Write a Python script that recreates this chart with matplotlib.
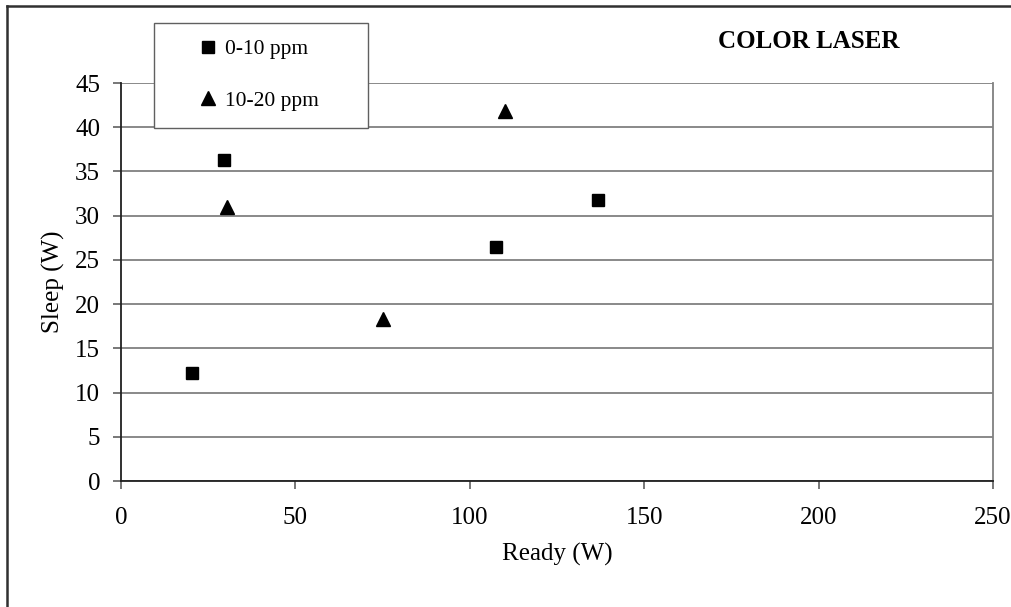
import matplotlib.pyplot as plt
from matplotlib.patches import Rectangle
from matplotlib.lines import Line2D

# data
ready_0_10 = [20.3, 29.5, 107.4, 136.8]
sleep_0_10 = [12.2, 36.3, 26.5, 31.8]
ready_10_20 = [30.4, 75.0, 110.1]
sleep_10_20 = [31.0, 18.3, 41.8]
labels = ["0-10 ppm", "10-20 ppm"]
x_ticks = [0, 50, 100, 150, 200, 250]
y_ticks = list(range(0, 50, 5))

W, H = 1011, 607
plt.rcParams['font.family'] = ['Liberation Serif', 'DejaVu Serif']

fig = plt.figure(figsize=[W / 100, H / 100], dpi=100)
ax = fig.add_axes([121 / W, 1 - 481 / H, (993 - 121) / W, (481 - 83) / H])

ax.plot(ready_0_10, sleep_0_10, 's', color='black', markersize=8.6, label=labels[0], zorder=3)
ax.plot(ready_10_20, sleep_10_20, '^', color='black', markersize=9.6, label=labels[1], zorder=3)

ax.set_xlim(0, 250)
ax.set_ylim(0, 45)
ax.set_xticks(x_ticks)
ax.set_yticks(y_ticks)
ax.yaxis.grid(True, color='#808080', linewidth=1.3)
ax.set_axisbelow(True)

ax.spines['top'].set_visible(False)
ax.spines['right'].set_color('#808080')
ax.spines['left'].set_color('#202020')
ax.spines['bottom'].set_color('#202020')
for s in ax.spines.values():
    s.set_linewidth(1.3)

ax.tick_params(axis='both', direction='out', length=6, width=1.2, color='#606060', labelsize=18)
ax.tick_params(axis='y', pad=9)
ax.tick_params(axis='x', pad=13)

ax.set_xlabel("Ready (W)", fontsize=18, labelpad=10)
ax.set_ylabel("Sleep (W)", fontsize=18, labelpad=7)

# outer chart border (only left and top visible in the crop)
fig.add_artist(Line2D([7 / W, 7 / W], [0, 1 - 6 / H], color='#303030', linewidth=1.8))
fig.add_artist(Line2D([7 / W, 1], [1 - 6 / H, 1 - 6 / H], color='#303030', linewidth=1.8))

# legend box
box = Rectangle((154 / W, 1 - 128 / H), (368 - 154) / W, (128 - 23) / H,
                transform=fig.transFigure, facecolor='white', edgecolor='#606060',
                linewidth=1.0, zorder=5)
fig.add_artist(box)
leg = fig.legend(loc='center', bbox_to_anchor=(259 / W, 1 - 75 / H),
                 frameon=False, fontsize=15.5, handlelength=0.8, handletextpad=0.4,
                 labelspacing=1.45, markerscale=1.0)
leg.set_zorder(6)

fig.text(809 / W, 1 - 42 / H, "COLOR LASER", fontsize=18, fontweight='bold',
         ha='center', va='center')

plt.savefig('out.png')
